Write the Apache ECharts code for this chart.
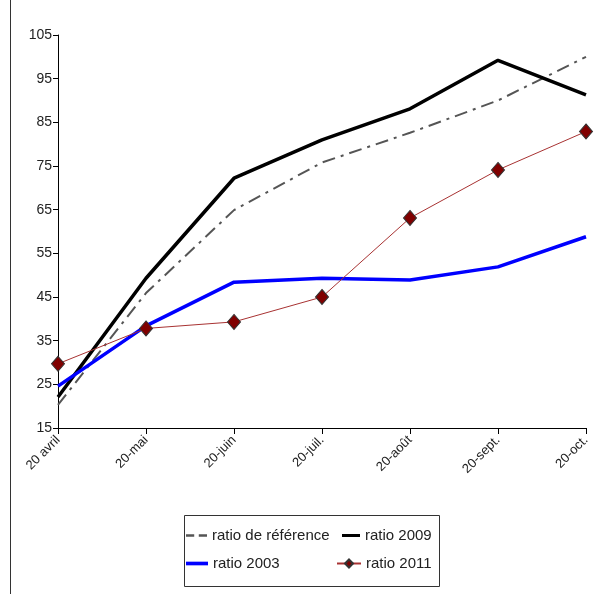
<!DOCTYPE html>
<html><head><meta charset="utf-8">
<script src="https://cdn.jsdelivr.net/npm/echarts@6/dist/echarts.min.js"></script>
<style>html,body{margin:0;padding:0;background:#fff}#c{width:606px;height:594px}</style>
</head><body><div id="c"></div>
<script>
const categories = ['20 avril','20-mai','20-juin','20-juil.','20-août','20-sept.','20-oct.'];
const yTicks = [15,25,35,45,55,65,75,85,95,105];
const ratioReference = [20.3, 45.9, 64.9, 75.8, 82.6, 90.0, 100.0];
const ratio2009 = [22.1, 49.3, 72.2, 81.0, 88.1, 99.2, 91.3];
const ratio2003 = [24.6, 38.4, 48.4, 49.3, 48.9, 51.9, 58.8];
const ratio2011 = [29.7, 37.8, 39.3, 45.0, 63.1, 74.1, 82.9];

const FONT = "'Liberation Sans Narrow','Liberation Sans',Arial,sans-serif";
const chart = echarts.init(document.getElementById('c'));
const legendBase = {
  orient:'horizontal', itemWidth:24, itemHeight:10, itemGap:4,
  textStyle:{fontFamily:FONT, fontSize:15, color:'#222'}, selectedMode:false, padding:0
};
const dashIcon = 'path://M0,0h9v3h-9z M14,0h9v3h-9z';
const solidIcon = 'path://M0,0h24v4h-24z';
chart.setOption({
  animation:false,
  backgroundColor:'#fff',
  grid:{left:58, right:20, top:35, bottom:166, containLabel:false},
  xAxis:{
    type:'category', data:categories, boundaryGap:false,
    axisLine:{lineStyle:{color:'#000', width:1}},
    axisTick:{alignWithLabel:true, length:6, lineStyle:{color:'#000'}},
    axisLabel:{rotate:45, fontFamily:FONT, fontSize:13, color:'#222', margin:10, interval:0}
  },
  yAxis:{
    type:'value', min:yTicks[0], max:yTicks[yTicks.length-1], interval:10,
    splitLine:{show:false},
    axisLine:{show:true, lineStyle:{color:'#000', width:1}},
    axisTick:{show:true, length:5, lineStyle:{color:'#000'}},
    axisLabel:{fontFamily:FONT, fontSize:14, color:'#222', margin:6}
  },
  legend:[
    Object.assign({}, legendBase, {data:[{name:'ratio de référence', icon:dashIcon}], itemWidth:21, itemHeight:3, itemGap:6, left:186, top:528}),
    Object.assign({}, legendBase, {data:[{name:'ratio 2009', icon:solidIcon}], itemWidth:18, itemHeight:4, itemGap:4, left:342, top:528}),
    Object.assign({}, legendBase, {data:[{name:'ratio 2003', icon:solidIcon}], itemWidth:22, itemHeight:4, itemGap:4, left:186, top:556}),
    Object.assign({}, legendBase, {data:['ratio 2011'], left:336, top:556})
  ],
  graphic:[
    {type:'rect', shape:{x:184.5, y:515.5, width:255, height:71}, style:{fill:'none', stroke:'#333', lineWidth:1}},
    {type:'line', shape:{x1:10.5, y1:0, x2:10.5, y2:594}, style:{stroke:'#333', lineWidth:1}}
  ],
  series:[
    {name:'ratio de référence', type:'line', data:ratioReference, symbol:'none', z:2,
     lineStyle:{color:'#555', width:2, type:[13,6,3,6]}, itemStyle:{color:'#555'}},
    {name:'ratio 2009', type:'line', data:ratio2009, symbol:'none', z:3,
     lineStyle:{color:'#000', width:3.5}, itemStyle:{color:'#000'}},
    {name:'ratio 2003', type:'line', data:ratio2003, symbol:'none', z:3,
     lineStyle:{color:'#0000ff', width:3.5}, itemStyle:{color:'#0000ff'}},
    {name:'ratio 2011', type:'line', data:ratio2011, symbol:'diamond', symbolSize:[13,15], z:4,
     lineStyle:{color:'#a83232', width:1}, itemStyle:{color:'#800000', borderColor:'#333', borderWidth:1}}
  ]
});
</script></body></html>
